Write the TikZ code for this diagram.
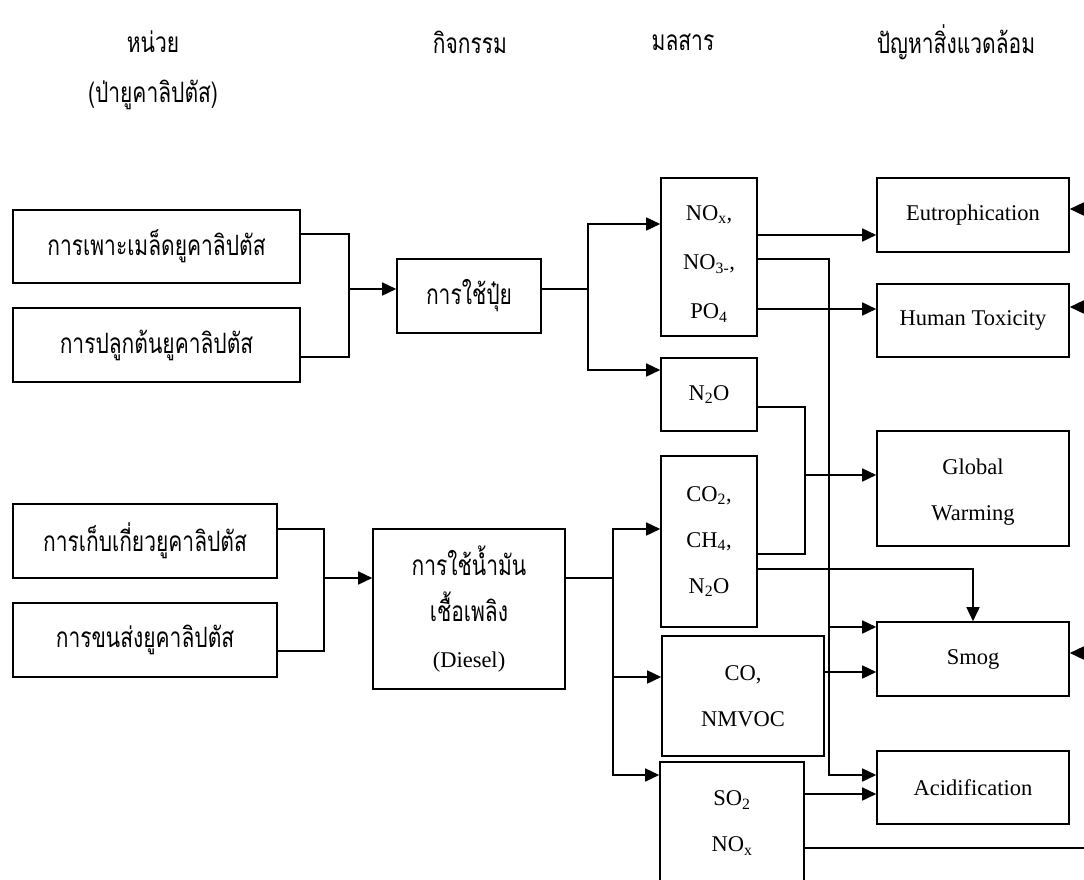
\documentclass[tikz,border=0pt]{standalone}
\usepackage{fontspec}
\setmainfont{Liberation Serif}
\newfontfamily\thai[Script=Thai,FakeStretch=0.75]{Loma}
\newcommand\thaisz{\thai\fontsize{28}{46}\selectfont}
\usetikzlibrary{arrows.meta}
\begin{document}
\begin{tikzpicture}[x=1pt,y=-1pt,
  box/.style={draw,line width=1.6pt,inner sep=0pt,align=center,font=\fontsize{22.5}{46}\selectfont},
  txt/.style={inner sep=0pt,align=center,font=\fontsize{22.5}{46}\selectfont},
  head/.style={inner sep=0pt,font=\thaisz},
  ln/.style={line width=1.6pt},
  arr/.style={line width=1.6pt,-{Triangle[length=14pt,width=13pt]}}]
\useasboundingbox (0,0) rectangle (1084,880);
\clip (0,0) rectangle (1084,880);

% column headings
\node[head] (h1) at (153,42) {หน่วย};
\node[head] (h2) at (153,95) {(ป่ายูคาลิปตัส)};
\node[head] (h3) at (470,42) {กิจกรรม};
\node[head] (h4) at (683,42) {มลสาร};
\node[head] (h5) at (956,42) {ปัญหาสิ่งแวดล้อม};

% units
\node[box,minimum width=287pt,minimum height=73pt] (a1) at (156.5,246.5) {\thaisz การเพาะเมล็ดยูคาลิปตัส};
\node[box,minimum width=287pt,minimum height=74pt] (a2) at (156.5,345) {\thaisz การปลูกต้นยูคาลิปตัส};
\node[box,minimum width=264pt,minimum height=74pt] (a3) at (145,541) {\thaisz การเก็บเกี่ยวยูคาลิปตัส};
\node[box,minimum width=264pt,minimum height=74pt] (a4) at (145,640) {\thaisz การขนส่งยูคาลิปตัส};

% activities
\node[box,minimum width=144pt,minimum height=74pt] (fert) at (469,296) {\thaisz การใช้ปุ๋ย};
\node[box,minimum width=192pt,minimum height=160pt] (diesel) at (469,609)
  {{\thaisz การใช้น้ำมัน}\\{\thaisz เชื้อเพลิง}\\(Diesel)};

% pollutants
\node[box,minimum width=96pt,minimum height=158pt] (nox) at (709,257) {};
\node[txt,font=\fontsize{22.5}{49}\selectfont] (noxt) at ([yshift=-7pt]nox.center)
  {NO\textsubscript{x},\\NO\textsubscript{3-},\\PO\textsubscript{4}};
\node[box,minimum width=96pt,minimum height=73pt] (n2o) at (709,394.5) {N\textsubscript{2}O};
\node[box,minimum width=96pt,minimum height=171pt] (co2) at (709,541.5)
  {CO\textsubscript{2},\\CH\textsubscript{4},\\N\textsubscript{2}O};
\node[box,minimum width=162pt,minimum height=120pt] (co) at (743,696) {CO,\\NMVOC};
\node[box,minimum width=144pt,minimum height=122pt] (so2) at (732,823) {SO\textsubscript{2}\\NO\textsubscript{x}};

% environmental problems
\node[box,minimum width=192pt,minimum height=74pt] (eut) at (973,215) {Eutrophication};
\node[box,minimum width=192pt,minimum height=73pt] (hum) at (973,320.5) {Human Toxicity};
\node[box,minimum width=192pt,minimum height=115pt] (gw) at (973,488.5) {};
\node[txt] (gwt) at ([yshift=-4pt]gw.center) {Global\\Warming};
\node[box,minimum width=192pt,minimum height=74pt] (smog) at (973,659) {Smog};
\node[box,minimum width=192pt,minimum height=73pt] (acid) at (973,787.5) {Acidification};

% units -> activities
\coordinate (ja) at (349,289);
\draw[ln] ([yshift=12.5pt]a1.east) -| (ja) |- ([yshift=-12pt]a2.east);
\draw[arr] (ja) -- (ja -| fert.west);
\coordinate (jb) at (324,578);
\draw[ln] ([yshift=12pt]a3.east) -| (jb) |- ([yshift=-11pt]a4.east);
\draw[arr] (jb) -- (jb -| diesel.west);

% activities -> pollutants
\coordinate (jf) at (588,289);
\draw[ln] (jf -| fert.east) -- (jf);
\draw[arr] (jf) |- ([yshift=33pt]nox.west);
\draw[arr] (jf) |- ([yshift=24.5pt]n2o.west);
\coordinate (jd) at (613,578);
\draw[ln] (jd -| diesel.east) -- (jd);
\draw[arr] (jd) |- ([yshift=12.5pt]co2.west);
\draw[arr] (jd) |- ([yshift=19pt]co.west);
\draw[arr] (jd) |- ([yshift=48pt]so2.west);

% pollutants -> problems
\coordinate (n1) at ([yshift=22pt]nox.east);
\draw[arr] (n1) -- (n1 -| eut.west);
\coordinate (n2) at ([yshift=-2pt]nox.east);
\coordinate (v1) at (829,627);
\coordinate (v2) at (829,775);
\draw[arr] (n2) -| (v2) -- (v2 -| acid.west);
\draw[arr] (v1) -- (v1 -| smog.west);
\coordinate (n3) at ([yshift=-52pt]nox.east);
\draw[arr] (n3) -- (n3 -| hum.west);

\coordinate (g1) at (805,475);
\draw[ln] ([yshift=-12.5pt]n2o.east) -| (g1);
\draw[ln] ([yshift=-12.5pt]co2.east) -| (g1);
\draw[arr] (g1) -- (g1 -| gw.west);
\draw[arr] ([yshift=-27.5pt]co2.east) -| (smog.north);

\coordinate (c1) at ([yshift=24pt]co.east);
\draw[arr] (c1) -- (c1 -| smog.west);
\coordinate (s1) at ([yshift=29pt]so2.east);
\draw[arr] (s1) -- (s1 -| acid.west);
\coordinate (s2) at ([yshift=-25pt]so2.east);
\coordinate (off1) at (1100,848);
\draw[ln] (s2) -- (off1);

% feedback lines entering from the right
\coordinate (r1) at (1100,209);
\coordinate (r2) at (1100,307);
\coordinate (r3) at (1100,653);
\draw[arr] (r1) -- (r1 -| eut.east);
\draw[arr] (r2) -- (r2 -| hum.east);
\draw[arr] (r3) -- (r3 -| smog.east);
\end{tikzpicture}
\end{document}
